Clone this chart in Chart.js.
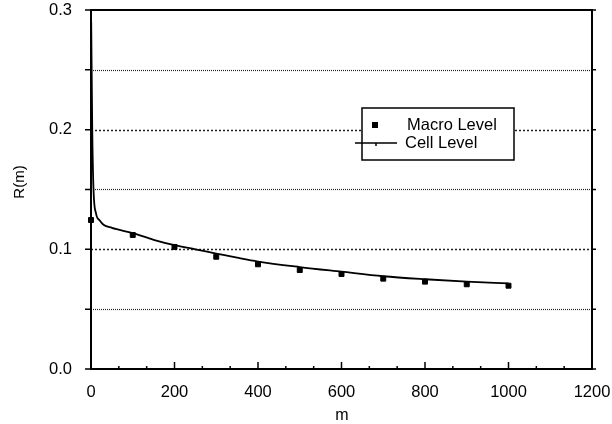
<!DOCTYPE html>
<html>
<head>
<meta charset="utf-8">
<script src="https://cdn.jsdelivr.net/npm/chart.js@4/dist/chart.umd.min.js"></script>
<style>
  body { margin: 0; background: #fff; }
  canvas { display: block; }
</style>
</head>
<body>
<canvas id="rChart" width="612" height="424"></canvas>
<script>
// valores
const macroM = [0, 100, 200, 300, 400, 500, 600, 700, 800, 900, 1000];
const macroR = [0.1245, 0.112, 0.102, 0.0938, 0.0875, 0.0827, 0.0794, 0.0755, 0.073, 0.0708, 0.0696];

const cellM = [0.5, 3, 6, 12, 21, 30, 50, 100, 150, 200, 250, 300, 350, 400, 500, 600, 700, 800, 900, 1000];
const cellR = [0.29, 0.2, 0.15, 0.13, 0.124, 0.1205, 0.118, 0.1135, 0.108, 0.1035, 0.1, 0.0965, 0.093, 0.0898, 0.0852, 0.0813, 0.0775, 0.075, 0.073, 0.0716];

const xTicks = [0, 200, 400, 600, 800, 1000, 1200];
const yTicks = ['0.0', '0.1', '0.2', '0.3'];

const FONT = '"Liberation Sans", Arial, sans-serif';

// grade, marcas dos eixos, títulos e legenda
const framePlugin = {
    id: 'frame',
    beforeDatasetsDraw(chart) {
        const { ctx, chartArea: a, scales: { y } } = chart;
        ctx.save();
        ctx.strokeStyle = '#222';
        for (let i = 1; i < 6; i++) {
            const py = Math.round(y.getPixelForValue(i * 0.05)) + 0.5;
            if (i % 2 === 0) { ctx.setLineDash([2, 2]); ctx.lineWidth = 1.5; }
            else { ctx.setLineDash([1, 1]); ctx.lineWidth = 1.2; }
            ctx.beginPath();
            ctx.moveTo(a.left, py);
            ctx.lineTo(a.right, py);
            ctx.stroke();
        }
        ctx.restore();
    },
    afterDraw(chart) {
        const { ctx, chartArea: a, scales: { x, y } } = chart;
        ctx.save();
        ctx.strokeStyle = '#000';
        ctx.lineWidth = 2;
        ctx.strokeRect(a.left, a.top, a.right - a.left, a.bottom - a.top);

        // marcas do eixo y (esquerda e direita)
        ctx.lineWidth = 1.5;
        for (let i = 0; i <= 6; i++) {
            const py = y.getPixelForValue(i * 0.05);
            ctx.beginPath();
            ctx.moveTo(a.left - 6, py); ctx.lineTo(a.left, py);
            ctx.moveTo(a.right, py); ctx.lineTo(a.right + 4, py);
            ctx.stroke();
        }
        // marcas do eixo x (para dentro)
        for (let i = 0; i <= 18; i++) {
            const px = x.getPixelForValue(i * 200 / 3);
            const len = i % 3 === 0 ? 7 : 3;
            ctx.beginPath();
            ctx.moveTo(px, a.bottom); ctx.lineTo(px, a.bottom - len);
            ctx.stroke();
        }

        // títulos dos eixos
        ctx.fillStyle = '#000';
        ctx.font = '16px ' + FONT;
        ctx.textAlign = 'center';
        ctx.textBaseline = 'alphabetic';
        ctx.fillText('m', 342, 420);
        ctx.font = '15px ' + FONT;
        ctx.save();
        ctx.translate(24, 182);
        ctx.rotate(-Math.PI / 2);
        ctx.fillText('R(m)', 0, 0);
        ctx.restore();

        // legenda
        ctx.fillStyle = '#fff';
        ctx.fillRect(362, 108, 152, 52);
        ctx.lineWidth = 1.5;
        ctx.strokeRect(362, 108, 152, 52);
        ctx.fillStyle = '#000';
        ctx.fillRect(372, 122, 6, 6);
        ctx.beginPath();
        ctx.moveTo(355, 143); ctx.lineTo(397, 143);
        ctx.moveTo(376, 143); ctx.lineTo(376, 146);
        ctx.stroke();
        ctx.font = '16.5px ' + FONT;
        ctx.textAlign = 'left';
        ctx.textBaseline = 'middle';
        ctx.fillText('Macro Level', 407, 125);
        ctx.fillText('Cell Level', 405, 143);
        ctx.restore();
    }
};

const ctx = document.getElementById('rChart').getContext('2d');
const rChart = new Chart(ctx, {
    type: 'scatter',
    data: {
        datasets: [{
            label: 'Cell Level',
            data: cellM.map((m, i) => ({ x: m, y: cellR[i] })),
            showLine: true,
            borderColor: '#000',
            borderWidth: 1.8,
            pointRadius: 0,
            cubicInterpolationMode: 'monotone',
            clip: false
        }, {
            label: 'Macro Level',
            data: macroM.map((m, i) => ({ x: m, y: macroR[i] })),
            showLine: false,
            pointStyle: 'rect',
            pointRadius: 3.5,
            backgroundColor: '#000',
            borderColor: '#000',
            borderWidth: 1,
            clip: false
        }]
    },
    options: {
        responsive: false,
        animation: false,
        layout: { padding: 0 },
        plugins: { legend: { display: false }, tooltip: { enabled: false } },
        scales: {
            x: {
                type: 'linear',
                min: 0, max: 1200,
                grid: { display: false },
                border: { display: false },
                afterFit: s => { s.height = 55; s.paddingLeft = 0; s.paddingRight = 20; },
                afterBuildTicks: s => { s.ticks = xTicks.map(v => ({ value: v })); },
                ticks: {
                    color: '#000',
                    font: { family: FONT, size: 16.5 },
                    padding: 6,
                    maxRotation: 0,
                    callback: v => String(v)
                }
            },
            y: {
                type: 'linear',
                min: 0, max: 0.3,
                grid: { display: false },
                border: { display: false },
                afterFit: s => { s.width = 91; s.paddingTop = 10; s.paddingBottom = 0; },
                afterBuildTicks: s => { s.ticks = yTicks.map(t => ({ value: parseFloat(t) })); },
                ticks: {
                    color: '#000',
                    font: { family: FONT, size: 16.5 },
                    padding: 11,
                    callback: (v, i) => yTicks[i]
                }
            }
        }
    },
    plugins: [framePlugin]
});
</script>
</body>
</html>
